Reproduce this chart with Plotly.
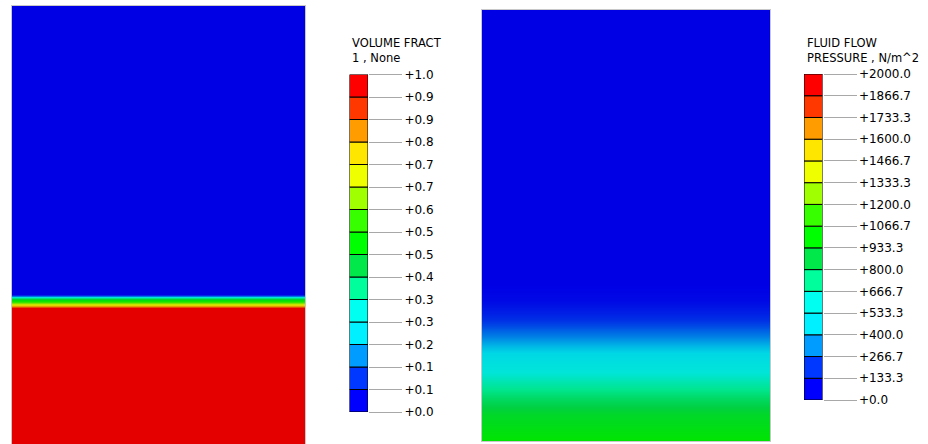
import plotly.graph_objects as go

# left model: volume fraction along the height (0 = bottom of view, 1 = top)
vf_height = [0.0, 0.250, 0.3105, 0.3139, 0.3174, 0.3219, 0.3265, 0.3311, 0.3356, 0.3390, 0.3425, 0.600, 1.0]
vf_value = [0.97, 0.97, 0.97, 0.88, 0.75, 0.62, 0.52, 0.45, 0.30, 0.15, 0.02, 0.0, 0.0]

# right model: fluid flow pressure (N/m^2) along the height
pr_height = [0.0, 0.060, 0.095, 0.123, 0.153, 0.188, 0.218, 0.241, 0.269, 0.297, 0.327, 0.374, 0.675, 1.0]
pr_value = [1000, 920, 820, 720, 620, 520, 420, 320, 230, 150, 90, 60, 20, 0]

# legend levels, bottom to top
vf_labels = ["+0.0", "+0.1", "+0.1", "+0.2", "+0.3", "+0.3", "+0.4", "+0.5",
             "+0.5", "+0.6", "+0.7", "+0.7", "+0.8", "+0.9", "+0.9", "+1.0"]
pr_labels = ["+0.0", "+133.3", "+266.7", "+400.0", "+533.3", "+666.7", "+800.0", "+933.3",
             "+1066.7", "+1200.0", "+1333.3", "+1466.7", "+1600.0", "+1733.3", "+1866.7", "+2000.0"]

band_colors = ["#0000FF", "#0038FF", "#009CFF", "#00F0FF", "#00FFF0", "#00FF9C", "#00E84A", "#00FF00",
               "#38FF00", "#A0FF00", "#F0FF00", "#FFE600", "#FF9C00", "#FF3800", "#FF0000"]


def shade(hx, f=0.9):
    r, g, b = int(hx[1:3], 16), int(hx[3:5], 16), int(hx[5:7], 16)
    return f"rgb({int(r*f)},{int(g*f)},{int(b*f)})"


n = len(band_colors)
cscale = [[0, shade(band_colors[0])]]
for i, c in enumerate(band_colors):
    cscale.append([(i + 0.5) / n, shade(c)])
cscale.append([1, shade(band_colors[-1])])

W, H = 928, 444
def dx(a, b): return [a / W, b / W]
def dy(top, bot): return [1 - bot / H, 1 - top / H]

fig = go.Figure()

fig.add_trace(go.Heatmap(x=[0, 1], y=vf_height, z=[[v, v] for v in vf_value],
                         zmin=0, zmax=1, colorscale=cscale, zsmooth="best",
                         showscale=False, hoverinfo="skip", xaxis="x", yaxis="y"))
fig.add_trace(go.Heatmap(x=[0, 1], y=pr_height, z=[[v, v] for v in pr_value],
                         zmin=0, zmax=2000, colorscale=cscale, zsmooth="best",
                         showscale=False, hoverinfo="skip", xaxis="x2", yaxis="y2"))

# discrete legends
for ax in ("3", "4"):
    fig.add_trace(go.Bar(x=[0] * n, y=[1] * n, base=list(range(n)), width=1,
                         marker=dict(color=band_colors, line=dict(color="black", width=1)),
                         showlegend=False, hoverinfo="skip", xaxis="x" + ax, yaxis="y" + ax))

panel_ax = dict(range=[0, 1], showticklabels=False, ticks="", showgrid=False, zeroline=False,
                showline=True, mirror=True, linecolor="#c8c8c8", linewidth=1)
tickfont = dict(family="DejaVu Sans", size=12, color="black")


def legend_y(labels, anchor, dom):
    return dict(domain=dom, anchor=anchor, range=[0, n], side="right", ticks="outside",
                ticklen=33, tickwidth=1, tickcolor="#a8a8a8", tickvals=list(range(n + 1)),
                ticktext=labels, tickfont=tickfont, showgrid=False, zeroline=False,
                showline=False, fixedrange=True)


fig.update_layout(
    width=W, height=H, margin=dict(l=0, r=0, t=0, b=0, autoexpand=False),
    paper_bgcolor="white", plot_bgcolor="white", showlegend=False,
    xaxis=dict(panel_ax, domain=dx(12, 305), anchor="y"),
    yaxis=dict(panel_ax, domain=dy(6, 444), anchor="x"),
    xaxis2=dict(panel_ax, domain=dx(482, 770), anchor="y2"),
    yaxis2=dict(panel_ax, domain=dy(10, 441), anchor="x2"),
    xaxis3=dict(domain=dx(349.5, 368), anchor="y3", range=[-0.5, 0.5], visible=False),
    yaxis3=legend_y(vf_labels, "x3", dy(74.5, 412)),
    xaxis4=dict(domain=dx(804, 822.5), anchor="y4", range=[-0.5, 0.5], visible=False),
    yaxis4=legend_y(pr_labels, "x4", dy(74, 400)),
)

titles = [("VOLUME FRACT<br>1 , None", 350), ("FLUID FLOW<br>PRESSURE , N/m^2", 805)]
for txt, px in titles:
    fig.add_annotation(text=txt, xref="paper", yref="paper", x=px / W, y=1 - 50.5 / H,
                       xanchor="left", yanchor="middle", align="left", showarrow=False,
                       font=dict(family="DejaVu Sans", size=11.5, color="black"))

fig.write_html("out.html", config={"displayModeBar": False},
               post_script="document.body.style.margin='0';document.body.style.overflow='hidden';")
